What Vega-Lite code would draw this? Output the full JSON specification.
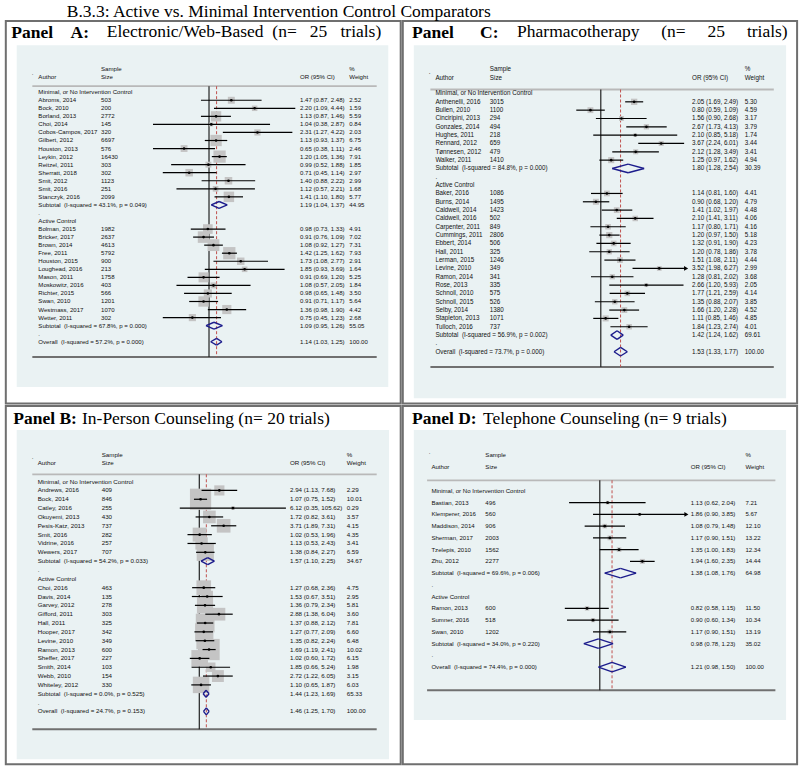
{
"$schema": "https://vega.github.io/schema/vega-lite/v6.json",
"autosize": {"type": "pad"},
"padding": {"left": 4.8, "top": 2.9, "right": 4, "bottom": 3.3},
"title": {"text": "B.3.3: Active vs. Minimal Intervention Control Comparators", "fontWeight": "normal", "anchor": "start", "dx": 61, "offset": -0.7, "frame": "group"},
"datasets": {
"A": [
{"row":0,"type":"head","label":"Minimal, or No Intervention Control"},
{"row":1,"type":"study","label":"Abroms, 2014","n":"503","or":1.47,"lo":0.87,"hi":2.48,"ci":"1.47 (0.87, 2.48)","w":2.52},
{"row":2,"type":"study","label":"Bock, 2010","n":"200","or":2.20,"lo":1.09,"hi":4.44,"ci":"2.20 (1.09, 4.44)","w":1.59},
{"row":3,"type":"study","label":"Borland, 2013","n":"2772","or":1.13,"lo":0.87,"hi":1.46,"ci":"1.13 (0.87, 1.46)","w":5.59},
{"row":4,"type":"study","label":"Choi, 2014","n":"145","or":1.04,"lo":0.38,"hi":2.87,"ci":"1.04 (0.38, 2.87)","w":0.84},
{"row":5,"type":"study","label":"Cobos-Campos, 2017","n":"320","or":2.31,"lo":1.27,"hi":4.22,"ci":"2.31 (1.27, 4.22)","w":2.03},
{"row":6,"type":"study","label":"Gilbert, 2012","n":"6697","or":1.13,"lo":0.93,"hi":1.37,"ci":"1.13 (0.93, 1.37)","w":6.75},
{"row":7,"type":"study","label":"Houston, 2013","n":"576","or":0.65,"lo":0.38,"hi":1.11,"ci":"0.65 (0.38, 1.11)","w":2.46},
{"row":8,"type":"study","label":"Leykin, 2012","n":"16430","or":1.20,"lo":1.05,"hi":1.36,"ci":"1.20 (1.05, 1.36)","w":7.91},
{"row":9,"type":"study","label":"Reitzel, 2011","n":"303","or":0.99,"lo":0.52,"hi":1.88,"ci":"0.99 (0.52, 1.88)","w":1.85},
{"row":10,"type":"study","label":"Sherratt, 2018","n":"302","or":0.71,"lo":0.45,"hi":1.14,"ci":"0.71 (0.45, 1.14)","w":2.97},
{"row":11,"type":"study","label":"Smit, 2012","n":"1123","or":1.40,"lo":0.88,"hi":2.22,"ci":"1.40 (0.88, 2.22)","w":2.99},
{"row":12,"type":"study","label":"Smit, 2016","n":"251","or":1.12,"lo":0.57,"hi":2.21,"ci":"1.12 (0.57, 2.21)","w":1.68},
{"row":13,"type":"study","label":"Stanczyk, 2016","n":"2099","or":1.41,"lo":1.10,"hi":1.80,"ci":"1.41 (1.10, 1.80)","w":5.77},
{"row":14,"type":"sub","label":"Subtotal\u00a0 (I-squared = 43.1%, p = 0.049)","or":1.19,"lo":1.04,"hi":1.37,"ci":"1.19 (1.04, 1.37)","w":44.95},
{"row":15,"type":"blank","label":"."},
{"row":16,"type":"head","label":"Active Control"},
{"row":17,"type":"study","label":"Bolman, 2015","n":"1982","or":0.98,"lo":0.73,"hi":1.33,"ci":"0.98 (0.73, 1.33)","w":4.91},
{"row":18,"type":"study","label":"Bricker, 2017","n":"2637","or":0.91,"lo":0.76,"hi":1.09,"ci":"0.91 (0.76, 1.09)","w":7.02},
{"row":19,"type":"study","label":"Brown, 2014","n":"4613","or":1.08,"lo":0.92,"hi":1.27,"ci":"1.08 (0.92, 1.27)","w":7.31},
{"row":20,"type":"study","label":"Free, 2011","n":"5792","or":1.42,"lo":1.25,"hi":1.62,"ci":"1.42 (1.25, 1.62)","w":7.93},
{"row":21,"type":"study","label":"Houston, 2015","n":"900","or":1.73,"lo":1.08,"hi":2.77,"ci":"1.73 (1.08, 2.77)","w":2.91},
{"row":22,"type":"study","label":"Loughead, 2016","n":"213","or":1.85,"lo":0.93,"hi":3.69,"ci":"1.85 (0.93, 3.69)","w":1.64},
{"row":23,"type":"study","label":"Mason, 2011","n":"1758","or":0.91,"lo":0.69,"hi":1.20,"ci":"0.91 (0.69, 1.20)","w":5.25},
{"row":24,"type":"study","label":"Moskowitz, 2016","n":"403","or":1.08,"lo":0.57,"hi":2.05,"ci":"1.08 (0.57, 2.05)","w":1.84},
{"row":25,"type":"study","label":"Richter, 2015","n":"566","or":0.98,"lo":0.65,"hi":1.48,"ci":"0.98 (0.65, 1.48)","w":3.50},
{"row":26,"type":"study","label":"Swan, 2010","n":"1201","or":0.91,"lo":0.71,"hi":1.17,"ci":"0.91 (0.71, 1.17)","w":5.64},
{"row":27,"type":"study","label":"Westmass, 2017","n":"1070","or":1.36,"lo":0.98,"hi":1.90,"ci":"1.36 (0.98, 1.90)","w":4.42},
{"row":28,"type":"study","label":"Wetter, 2011","n":"302","or":0.75,"lo":0.45,"hi":1.23,"ci":"0.75 (0.45, 1.23)","w":2.68},
{"row":29,"type":"sub","label":"Subtotal\u00a0 (I-squared = 67.8%, p = 0.000)","or":1.09,"lo":0.95,"hi":1.26,"ci":"1.09 (0.95, 1.26)","w":55.05},
{"row":30,"type":"blank","label":"."},
{"row":31,"type":"overall","label":"Overall\u00a0 (I-squared = 57.2%, p = 0.000)","or":1.14,"lo":1.03,"hi":1.25,"ci":"1.14 (1.03, 1.25)","w":100.00}
],
"C": [
{"row":0,"type":"head","label":"Minimal, or No Intervention Control"},
{"row":1,"type":"study","label":"Anthenelli, 2016","n":"3015","or":2.05,"lo":1.69,"hi":2.49,"ci":"2.05 (1.69, 2.49)","w":5.30},
{"row":2,"type":"study","label":"Bullen, 2010","n":"1100","or":0.80,"lo":0.59,"hi":1.09,"ci":"0.80 (0.59, 1.09)","w":4.59},
{"row":3,"type":"study","label":"Cinciripini, 2013","n":"294","or":1.56,"lo":0.90,"hi":2.68,"ci":"1.56 (0.90, 2.68)","w":3.17},
{"row":4,"type":"study","label":"Gonzales, 2014","n":"494","or":2.67,"lo":1.73,"hi":4.13,"ci":"2.67 (1.73, 4.13)","w":3.79},
{"row":5,"type":"study","label":"Hughes, 2011","n":"218","or":2.10,"lo":0.85,"hi":5.18,"ci":"2.10 (0.85, 5.18)","w":1.74},
{"row":6,"type":"study","label":"Rennard, 2012","n":"659","or":3.67,"lo":2.24,"hi":6.01,"ci":"3.67 (2.24, 6.01)","w":3.44},
{"row":7,"type":"study","label":"Tønnesen, 2012","n":"479","or":2.12,"lo":1.28,"hi":3.49,"ci":"2.12 (1.28, 3.49)","w":3.41},
{"row":8,"type":"study","label":"Walker, 2011","n":"1410","or":1.25,"lo":0.97,"hi":1.62,"ci":"1.25 (0.97, 1.62)","w":4.94},
{"row":9,"type":"sub","label":"Subtotal\u00a0 (I-squared = 84.8%, p = 0.000)","or":1.80,"lo":1.28,"hi":2.54,"ci":"1.80 (1.28, 2.54)","w":30.39},
{"row":10,"type":"blank","label":"."},
{"row":11,"type":"head","label":"Active Control"},
{"row":12,"type":"study","label":"Baker, 2016","n":"1086","or":1.14,"lo":0.81,"hi":1.60,"ci":"1.14 (0.81, 1.60)","w":4.41},
{"row":13,"type":"study","label":"Burns, 2014","n":"1495","or":0.90,"lo":0.68,"hi":1.20,"ci":"0.90 (0.68, 1.20)","w":4.79},
{"row":14,"type":"study","label":"Caldwell, 2014","n":"1423","or":1.41,"lo":1.02,"hi":1.97,"ci":"1.41 (1.02, 1.97)","w":4.48},
{"row":15,"type":"study","label":"Caldwell, 2016","n":"502","or":2.10,"lo":1.41,"hi":3.11,"ci":"2.10 (1.41, 3.11)","w":4.06},
{"row":16,"type":"study","label":"Carpenter, 2011","n":"849","or":1.17,"lo":0.80,"hi":1.71,"ci":"1.17 (0.80, 1.71)","w":4.16},
{"row":17,"type":"study","label":"Cummings, 2011","n":"2806","or":1.20,"lo":0.97,"hi":1.50,"ci":"1.20 (0.97, 1.50)","w":5.18},
{"row":18,"type":"study","label":"Ebbert, 2014","n":"506","or":1.32,"lo":0.91,"hi":1.90,"ci":"1.32 (0.91, 1.90)","w":4.23},
{"row":19,"type":"study","label":"Hall, 2011","n":"325","or":1.20,"lo":0.78,"hi":1.86,"ci":"1.20 (0.78, 1.86)","w":3.78},
{"row":20,"type":"study","label":"Lerman, 2015","n":"1246","or":1.51,"lo":1.08,"hi":2.11,"ci":"1.51 (1.08, 2.11)","w":4.44},
{"row":21,"type":"study","label":"Levine, 2010","n":"349","or":3.52,"lo":1.98,"hi":6.27,"ci":"3.52 (1.98, 6.27)","w":2.99},
{"row":22,"type":"study","label":"Ramon, 2014","n":"341","or":1.28,"lo":0.81,"hi":2.02,"ci":"1.28 (0.81, 2.02)","w":3.68},
{"row":23,"type":"study","label":"Rose, 2013","n":"335","or":2.66,"lo":1.20,"hi":5.93,"ci":"2.66 (1.20, 5.93)","w":2.05},
{"row":24,"type":"study","label":"Schnoll, 2010","n":"575","or":1.77,"lo":1.21,"hi":2.59,"ci":"1.77 (1.21, 2.59)","w":4.14},
{"row":25,"type":"study","label":"Schnoll, 2015","n":"526","or":1.35,"lo":0.88,"hi":2.07,"ci":"1.35 (0.88, 2.07)","w":3.85},
{"row":26,"type":"study","label":"Selby, 2014","n":"1380","or":1.66,"lo":1.20,"hi":2.28,"ci":"1.66 (1.20, 2.28)","w":4.52},
{"row":27,"type":"study","label":"Stapleton, 2013","n":"1071","or":1.11,"lo":0.85,"hi":1.46,"ci":"1.11 (0.85, 1.46)","w":4.85},
{"row":28,"type":"study","label":"Tulloch, 2016","n":"737","or":1.84,"lo":1.23,"hi":2.74,"ci":"1.84 (1.23, 2.74)","w":4.01},
{"row":29,"type":"sub","label":"Subtotal\u00a0 (I-squared = 56.9%, p = 0.002)","or":1.42,"lo":1.24,"hi":1.62,"ci":"1.42 (1.24, 1.62)","w":69.61},
{"row":30,"type":"blank","label":"."},
{"row":31,"type":"overall","label":"Overall\u00a0 (I-squared = 73.7%, p = 0.000)","or":1.53,"lo":1.33,"hi":1.77,"ci":"1.53 (1.33, 1.77)","w":100.00}
],
"B": [
{"row":0,"type":"head","label":"Minimal, or No Intervention Control"},
{"row":1,"type":"study","label":"Andrews, 2016","n":"409","or":2.94,"lo":1.13,"hi":7.68,"ci":"2.94 (1.13, 7.68)","w":2.29},
{"row":2,"type":"study","label":"Bock, 2014","n":"846","or":1.07,"lo":0.75,"hi":1.52,"ci":"1.07 (0.75, 1.52)","w":10.01},
{"row":3,"type":"study","label":"Catley, 2016","n":"255","or":6.12,"lo":0.35,"hi":105.62,"ci":"6.12 (0.35, 105.62)","w":0.29},
{"row":4,"type":"study","label":"Okuyemi, 2013","n":"430","or":1.72,"lo":0.82,"hi":3.61,"ci":"1.72 (0.82, 3.61)","w":3.57},
{"row":5,"type":"study","label":"Pesis-Katz, 2013","n":"737","or":3.71,"lo":1.89,"hi":7.31,"ci":"3.71 (1.89, 7.31)","w":4.15},
{"row":6,"type":"study","label":"Smit, 2016","n":"282","or":1.02,"lo":0.53,"hi":1.96,"ci":"1.02 (0.53, 1.96)","w":4.35},
{"row":7,"type":"study","label":"Vidrine, 2016","n":"257","or":1.13,"lo":0.53,"hi":2.43,"ci":"1.13 (0.53, 2.43)","w":3.41},
{"row":8,"type":"study","label":"Wewers, 2017","n":"707","or":1.38,"lo":0.84,"hi":2.27,"ci":"1.38 (0.84, 2.27)","w":6.59},
{"row":9,"type":"sub","label":"Subtotal\u00a0 (I-squared = 54.2%, p = 0.033)","or":1.57,"lo":1.10,"hi":2.25,"ci":"1.57 (1.10, 2.25)","w":34.67},
{"row":10,"type":"blank","label":"."},
{"row":11,"type":"head","label":"Active Control"},
{"row":12,"type":"study","label":"Choi, 2016","n":"463","or":1.27,"lo":0.68,"hi":2.36,"ci":"1.27 (0.68, 2.36)","w":4.75},
{"row":13,"type":"study","label":"Davis, 2014","n":"135","or":1.53,"lo":0.67,"hi":3.51,"ci":"1.53 (0.67, 3.51)","w":2.95},
{"row":14,"type":"study","label":"Garvey, 2012","n":"278","or":1.36,"lo":0.79,"hi":2.34,"ci":"1.36 (0.79, 2.34)","w":5.81},
{"row":15,"type":"study","label":"Gifford, 2011","n":"303","or":2.88,"lo":1.38,"hi":6.04,"ci":"2.88 (1.38, 6.04)","w":3.60},
{"row":16,"type":"study","label":"Hall, 2011","n":"325","or":1.37,"lo":0.88,"hi":2.12,"ci":"1.37 (0.88, 2.12)","w":7.81},
{"row":17,"type":"study","label":"Hooper, 2017","n":"342","or":1.27,"lo":0.77,"hi":2.09,"ci":"1.27 (0.77, 2.09)","w":6.60},
{"row":18,"type":"study","label":"Levine, 2010","n":"349","or":1.35,"lo":0.82,"hi":2.24,"ci":"1.35 (0.82, 2.24)","w":6.48},
{"row":19,"type":"study","label":"Ramon, 2013","n":"600","or":1.69,"lo":1.19,"hi":2.41,"ci":"1.69 (1.19, 2.41)","w":10.02},
{"row":20,"type":"study","label":"Sheffer, 2017","n":"227","or":1.02,"lo":0.60,"hi":1.72,"ci":"1.02 (0.60, 1.72)","w":6.15},
{"row":21,"type":"study","label":"Smith, 2014","n":"103","or":1.85,"lo":0.66,"hi":5.24,"ci":"1.85 (0.66, 5.24)","w":1.98},
{"row":22,"type":"study","label":"Webb, 2010","n":"154","or":2.72,"lo":1.22,"hi":6.05,"ci":"2.72 (1.22, 6.05)","w":3.15},
{"row":23,"type":"study","label":"Whiteley, 2012","n":"330","or":1.10,"lo":0.65,"hi":1.87,"ci":"1.10 (0.65, 1.87)","w":6.03},
{"row":24,"type":"sub","label":"Subtotal\u00a0 (I-squared = 0.0%, p = 0.525)","or":1.44,"lo":1.23,"hi":1.69,"ci":"1.44 (1.23, 1.69)","w":65.33},
{"row":25,"type":"blank","label":"."},
{"row":26,"type":"overall","label":"Overall\u00a0 (I-squared = 24.7%, p = 0.153)","or":1.46,"lo":1.25,"hi":1.70,"ci":"1.46 (1.25, 1.70)","w":100.00}
],
"D": [
{"row":0,"type":"head","label":"Minimal, or No Intervention Control"},
{"row":1,"type":"study","label":"Bastian, 2013","n":"496","or":1.13,"lo":0.62,"hi":2.04,"ci":"1.13 (0.62, 2.04)","w":7.21},
{"row":2,"type":"study","label":"Klemperer, 2016","n":"560","or":1.86,"lo":0.90,"hi":3.85,"ci":"1.86 (0.90, 3.85)","w":5.67},
{"row":3,"type":"study","label":"Maddison, 2014","n":"906","or":1.08,"lo":0.79,"hi":1.48,"ci":"1.08 (0.79, 1.48)","w":12.10},
{"row":4,"type":"study","label":"Sherman, 2017","n":"2003","or":1.17,"lo":0.90,"hi":1.51,"ci":"1.17 (0.90, 1.51)","w":13.22},
{"row":5,"type":"study","label":"Tzelepis, 2010","n":"1562","or":1.35,"lo":1.00,"hi":1.83,"ci":"1.35 (1.00, 1.83)","w":12.34},
{"row":6,"type":"study","label":"Zhu, 2012","n":"2277","or":1.94,"lo":1.60,"hi":2.35,"ci":"1.94 (1.60, 2.35)","w":14.44},
{"row":7,"type":"sub","label":"Subtotal\u00a0 (I-squared = 69.6%, p = 0.006)","or":1.38,"lo":1.08,"hi":1.76,"ci":"1.38 (1.08, 1.76)","w":64.98},
{"row":8,"type":"blank","label":"."},
{"row":9,"type":"head","label":"Active Control"},
{"row":10,"type":"study","label":"Ramon, 2013","n":"600","or":0.82,"lo":0.58,"hi":1.15,"ci":"0.82 (0.58, 1.15)","w":11.50},
{"row":11,"type":"study","label":"Sumner, 2016","n":"518","or":0.90,"lo":0.60,"hi":1.34,"ci":"0.90 (0.60, 1.34)","w":10.34},
{"row":12,"type":"study","label":"Swan, 2010","n":"1202","or":1.17,"lo":0.90,"hi":1.51,"ci":"1.17 (0.90, 1.51)","w":13.19},
{"row":13,"type":"sub","label":"Subtotal\u00a0 (I-squared = 34.0%, p = 0.220)","or":0.98,"lo":0.78,"hi":1.23,"ci":"0.98 (0.78, 1.23)","w":35.02},
{"row":14,"type":"blank","label":"."},
{"row":15,"type":"overall","label":"Overall\u00a0 (I-squared = 74.4%, p = 0.000)","or":1.21,"lo":0.98,"hi":1.50,"ci":"1.21 (0.98, 1.50)","w":100.00}
]
},
"spacing": 0,
"resolve": {"scale": {"x": "independent", "y": "independent", "size": "independent"}},
"vconcat": [
{"hconcat": [
{
"width": 394.9, "height": 382.6,
"title": {"text": "Panel\u00a0\u00a0\u00a0\u00a0A:", "offset": -20.3, "dx": 5.5},
"layer": [
{"data":{"values":[{}]},"mark":{"type":"rect","fill":"#eaf2f3"},"encoding":{"x":{"datum":0.03608,"type":"quantitative","scale":{"type":"log","domain":[0.02988,27.43],"nice":false},"axis":{"values":[0.225,1,4.44],"offset":-46.6,"title":null,"labelExpr":"datum.value < 1 ? substring(toString(datum.value), 1) : toString(datum.value)"}},"x2":{"datum":22.13},"y":{"datum":-5.84,"type":"quantitative","scale":{"domain":[-8.857,38.67],"reverse":true,"nice":false,"zero":false}},"y2":{"datum":36.61}}},
{"data":{"values":[{}]},"mark":{"type":"text","font":"Liberation Serif","fontSize":17.5,"baseline":"alphabetic","color":"black"},"encoding":{"x":{"datum":0.1708,"type":"quantitative","scale":{"type":"log","domain":[0.02988,27.43],"nice":false}},"y":{"datum":-6.795,"type":"quantitative","scale":{"domain":[-8.857,38.67],"reverse":true,"nice":false,"zero":false}},"text":{"value":"Electronic/Web-Based\u00a0\u00a0(n=\u00a0\u00a0\u00a025\u00a0\u00a0\u00a0trials)"}}},
{"data":{"values":[{}]},"mark":{"type":"rule","color":"#b9b9b9","strokeWidth":1.8},"encoding":{"x":{"datum":0.04725,"type":"quantitative","scale":{"type":"log","domain":[0.02988,27.43],"nice":false}},"x2":{"datum":18.12},"y":{"datum":-0.745,"type":"quantitative","scale":{"domain":[-8.857,38.67],"reverse":true,"nice":false,"zero":false}}}},
{"data":{"values":[{}]},"mark":{"type":"rule","color":"#707070","strokeWidth":2},"encoding":{"x":{"datum":0.04725,"type":"quantitative","scale":{"type":"log","domain":[0.02988,27.43],"nice":false}},"x2":{"datum":18.12},"y":{"datum":32.88,"type":"quantitative","scale":{"domain":[-8.857,38.67],"reverse":true,"nice":false,"zero":false}}}},
{"data":{"values":[{}]},"mark":{"type":"rule","color":"#222222","strokeWidth":1.2},"encoding":{"x":{"datum":1,"type":"quantitative","scale":{"type":"log","domain":[0.02988,27.43],"nice":false}},"y":{"datum":-0.745,"type":"quantitative","scale":{"domain":[-8.857,38.67],"reverse":true,"nice":false,"zero":false}},"y2":{"datum":32.88}}},
{"data":{"values":[{}]},"mark":{"type":"rule","color":"#c0504d","strokeWidth":1,"strokeDash":[3,2]},"encoding":{"x":{"datum":1.14,"type":"quantitative","scale":{"type":"log","domain":[0.02988,27.43],"nice":false}},"y":{"datum":-0.745,"type":"quantitative","scale":{"domain":[-8.857,38.67],"reverse":true,"nice":false,"zero":false}},"y2":{"datum":32.88}}},
{"data":{"name":"A"},"transform":[{"filter":"datum.type == 'study'"}],"mark":{"type":"point","shape":"square","filled":true,"color":"#c4c4c4","opacity":1},"encoding":{"x":{"field":"or","type":"quantitative","scale":{"type":"log","domain":[0.02988,27.43],"nice":false}},"y":{"field":"row","type":"quantitative","scale":{"domain":[-8.857,38.67],"reverse":true,"nice":false,"zero":false}},"size":{"field":"w","type":"quantitative","scale":{"domain":[0,10],"range":[0,190]},"legend":null}}},
{"data":{"name":"A"},"transform":[{"filter":"datum.type == 'study'"}],"mark":{"type":"rule","color":"black","strokeWidth":1.2},"encoding":{"x":{"field":"lo","type":"quantitative","scale":{"type":"log","domain":[0.02988,27.43],"nice":false}},"x2":{"field":"hi"},"y":{"field":"row","type":"quantitative","scale":{"domain":[-8.857,38.67],"reverse":true,"nice":false,"zero":false}}}},
{"data":{"name":"A"},"transform":[{"filter":"datum.type == 'study'"}],"mark":{"type":"point","shape":"circle","filled":true,"color":"black","size":7,"opacity":1},"encoding":{"x":{"field":"or","type":"quantitative","scale":{"type":"log","domain":[0.02988,27.43],"nice":false}},"y":{"field":"row","type":"quantitative","scale":{"domain":[-8.857,38.67],"reverse":true,"nice":false,"zero":false}}}},
{"data":{"name":"A"},"transform":[{"filter":"datum.type == 'sub' || datum.type == 'overall'"}],"mark":{"type":"rule","color":"#1c1c8c","strokeWidth":1.4,"y2Offset":-3.4},"encoding":{"x":{"field":"lo","type":"quantitative","scale":{"type":"log","domain":[0.02988,27.43],"nice":false}},"x2":{"field":"or"},"y":{"field":"row","type":"quantitative","scale":{"domain":[-8.857,38.67],"reverse":true,"nice":false,"zero":false}},"y2":{"field":"row"}}},
{"data":{"name":"A"},"transform":[{"filter":"datum.type == 'sub' || datum.type == 'overall'"}],"mark":{"type":"rule","color":"#1c1c8c","strokeWidth":1.4,"yOffset":-3.4},"encoding":{"x":{"field":"or","type":"quantitative","scale":{"type":"log","domain":[0.02988,27.43],"nice":false}},"x2":{"field":"hi"},"y":{"field":"row","type":"quantitative","scale":{"domain":[-8.857,38.67],"reverse":true,"nice":false,"zero":false}},"y2":{"field":"row"}}},
{"data":{"name":"A"},"transform":[{"filter":"datum.type == 'sub' || datum.type == 'overall'"}],"mark":{"type":"rule","color":"#1c1c8c","strokeWidth":1.4,"y2Offset":3.4},"encoding":{"x":{"field":"hi","type":"quantitative","scale":{"type":"log","domain":[0.02988,27.43],"nice":false}},"x2":{"field":"or"},"y":{"field":"row","type":"quantitative","scale":{"domain":[-8.857,38.67],"reverse":true,"nice":false,"zero":false}},"y2":{"field":"row"}}},
{"data":{"name":"A"},"transform":[{"filter":"datum.type == 'sub' || datum.type == 'overall'"}],"mark":{"type":"rule","color":"#1c1c8c","strokeWidth":1.4,"yOffset":3.4},"encoding":{"x":{"field":"or","type":"quantitative","scale":{"type":"log","domain":[0.02988,27.43],"nice":false}},"x2":{"field":"lo"},"y":{"field":"row","type":"quantitative","scale":{"domain":[-8.857,38.67],"reverse":true,"nice":false,"zero":false}},"y2":{"field":"row"}}},
{"data":{"name":"A"},"mark":{"type":"text"},"encoding":{"x":{"datum":0.05241,"type":"quantitative","scale":{"type":"log","domain":[0.02988,27.43],"nice":false}},"y":{"field":"row","type":"quantitative","scale":{"domain":[-8.857,38.67],"reverse":true,"nice":false,"zero":false}},"text":{"field":"label"}}},
{"data":{"name":"A"},"transform":[{"filter":"isValid(datum.n)"}],"mark":{"type":"text"},"encoding":{"x":{"datum":0.1548,"type":"quantitative","scale":{"type":"log","domain":[0.02988,27.43],"nice":false}},"y":{"field":"row","type":"quantitative","scale":{"domain":[-8.857,38.67],"reverse":true,"nice":false,"zero":false}},"text":{"field":"n"}}},
{"data":{"name":"A"},"transform":[{"filter":"isValid(datum.ci)"}],"mark":{"type":"text"},"encoding":{"x":{"datum":4.816,"type":"quantitative","scale":{"type":"log","domain":[0.02988,27.43],"nice":false}},"y":{"field":"row","type":"quantitative","scale":{"domain":[-8.857,38.67],"reverse":true,"nice":false,"zero":false}},"text":{"field":"ci"}}},
{"data":{"name":"A"},"transform":[{"filter":"isValid(datum.w)"}],"mark":{"type":"text"},"encoding":{"x":{"datum":11.28,"type":"quantitative","scale":{"type":"log","domain":[0.02988,27.43],"nice":false}},"y":{"field":"row","type":"quantitative","scale":{"domain":[-8.857,38.67],"reverse":true,"nice":false,"zero":false}},"text":{"field":"w","type":"quantitative","format":".2f"}}},
{"data":{"values":[{}]},"mark":{"type":"text"},"encoding":{"x":{"datum":0.1548,"type":"quantitative","scale":{"type":"log","domain":[0.02988,27.43],"nice":false}},"y":{"datum":-2.94,"type":"quantitative","scale":{"domain":[-8.857,38.67],"reverse":true,"nice":false,"zero":false}},"text":{"value":"Sample"}}},
{"data":{"values":[{}]},"mark":{"type":"text"},"encoding":{"x":{"datum":0.1548,"type":"quantitative","scale":{"type":"log","domain":[0.02988,27.43],"nice":false}},"y":{"datum":-1.9,"type":"quantitative","scale":{"domain":[-8.857,38.67],"reverse":true,"nice":false,"zero":false}},"text":{"value":"Size"}}},
{"data":{"values":[{}]},"mark":{"type":"text"},"encoding":{"x":{"datum":0.05241,"type":"quantitative","scale":{"type":"log","domain":[0.02988,27.43],"nice":false}},"y":{"datum":-1.9,"type":"quantitative","scale":{"domain":[-8.857,38.67],"reverse":true,"nice":false,"zero":false}},"text":{"value":"Author"}}},
{"data":{"values":[{}]},"mark":{"type":"text"},"encoding":{"x":{"datum":4.816,"type":"quantitative","scale":{"type":"log","domain":[0.02988,27.43],"nice":false}},"y":{"datum":-1.9,"type":"quantitative","scale":{"domain":[-8.857,38.67],"reverse":true,"nice":false,"zero":false}},"text":{"value":"OR (95% CI)"}}},
{"data":{"values":[{}]},"mark":{"type":"text"},"encoding":{"x":{"datum":11.28,"type":"quantitative","scale":{"type":"log","domain":[0.02988,27.43],"nice":false}},"y":{"datum":-2.94,"type":"quantitative","scale":{"domain":[-8.857,38.67],"reverse":true,"nice":false,"zero":false}},"text":{"value":"%"}}},
{"data":{"values":[{}]},"mark":{"type":"text"},"encoding":{"x":{"datum":11.28,"type":"quantitative","scale":{"type":"log","domain":[0.02988,27.43],"nice":false}},"y":{"datum":-1.9,"type":"quantitative","scale":{"domain":[-8.857,38.67],"reverse":true,"nice":false,"zero":false}},"text":{"value":"Weight"}}},
{"data":{"values":[{}]},"mark":{"type":"text"},"encoding":{"x":{"datum":0.04677,"type":"quantitative","scale":{"type":"log","domain":[0.02988,27.43],"nice":false}},"y":{"datum":-2.4,"type":"quantitative","scale":{"domain":[-8.857,38.67],"reverse":true,"nice":false,"zero":false}},"text":{"value":"."}}}
]
},
{
"width": 394.3, "height": 382.6,
"title": {"text": "Panel\u00a0\u00a0\u00a0\u00a0\u00a0\u00a0C:", "offset": -20.3, "dx": 9.3},
"layer": [
{"data":{"values":[{}]},"mark":{"type":"rect","fill":"#eaf2f3"},"encoding":{"x":{"datum":0.01788,"type":"quantitative","scale":{"type":"log","domain":[0.01411,68.33],"nice":false},"axis":{"values":[0.16,1,6.27],"offset":-36.6,"title":null,"labelExpr":"datum.value < 1 ? substring(toString(datum.value), 1) : toString(datum.value)"}},"x2":{"datum":53.93},"y":{"datum":-5.8,"type":"quantitative","scale":{"domain":[-8.715,37.215],"reverse":true,"nice":false,"zero":false}},"y2":{"datum":36.6}}},
{"data":{"values":[{}]},"mark":{"type":"text","font":"Liberation Serif","fontSize":17.5,"baseline":"alphabetic","color":"black"},"encoding":{"x":{"datum":0.1651,"type":"quantitative","scale":{"type":"log","domain":[0.01411,68.33],"nice":false}},"y":{"datum":-6.795,"type":"quantitative","scale":{"domain":[-8.715,37.215],"reverse":true,"nice":false,"zero":false}},"text":{"value":"Pharmacotherapy\u00a0\u00a0\u00a0\u00a0\u00a0(n=\u00a0\u00a0\u00a0\u00a0\u00a025\u00a0\u00a0\u00a0\u00a0\u00a0trials)"}}},
{"data":{"values":[{}]},"mark":{"type":"rule","color":"#b9b9b9","strokeWidth":1.8},"encoding":{"x":{"datum":0.02556,"type":"quantitative","scale":{"type":"log","domain":[0.01411,68.33],"nice":false}},"x2":{"datum":41.39},"y":{"datum":-0.48,"type":"quantitative","scale":{"domain":[-8.715,37.215],"reverse":true,"nice":false,"zero":false}}}},
{"data":{"values":[{}]},"mark":{"type":"rule","color":"#707070","strokeWidth":2},"encoding":{"x":{"datum":0.02556,"type":"quantitative","scale":{"type":"log","domain":[0.01411,68.33],"nice":false}},"x2":{"datum":41.39},"y":{"datum":32.82,"type":"quantitative","scale":{"domain":[-8.715,37.215],"reverse":true,"nice":false,"zero":false}}}},
{"data":{"values":[{}]},"mark":{"type":"rule","color":"#222222","strokeWidth":1.2},"encoding":{"x":{"datum":1,"type":"quantitative","scale":{"type":"log","domain":[0.01411,68.33],"nice":false}},"y":{"datum":-0.48,"type":"quantitative","scale":{"domain":[-8.715,37.215],"reverse":true,"nice":false,"zero":false}},"y2":{"datum":32.82}}},
{"data":{"values":[{}]},"mark":{"type":"rule","color":"#c0504d","strokeWidth":1,"strokeDash":[3,2]},"encoding":{"x":{"datum":1.53,"type":"quantitative","scale":{"type":"log","domain":[0.01411,68.33],"nice":false}},"y":{"datum":-0.48,"type":"quantitative","scale":{"domain":[-8.715,37.215],"reverse":true,"nice":false,"zero":false}},"y2":{"datum":32.82}}},
{"data":{"name":"C"},"transform":[{"filter":"datum.type == 'study'"}],"mark":{"type":"point","shape":"square","filled":true,"color":"#c4c4c4","opacity":1},"encoding":{"x":{"field":"or","type":"quantitative","scale":{"type":"log","domain":[0.01411,68.33],"nice":false}},"y":{"field":"row","type":"quantitative","scale":{"domain":[-8.715,37.215],"reverse":true,"nice":false,"zero":false}},"size":{"field":"w","type":"quantitative","scale":{"domain":[0,10],"range":[0,75]},"legend":null}}},
{"data":{"name":"C"},"transform":[{"filter":"datum.type == 'study'"}],"mark":{"type":"rule","color":"black","strokeWidth":1.2},"encoding":{"x":{"field":"lo","type":"quantitative","scale":{"type":"log","domain":[0.01411,68.33],"nice":false}},"x2":{"field":"hi"},"y":{"field":"row","type":"quantitative","scale":{"domain":[-8.715,37.215],"reverse":true,"nice":false,"zero":false}}}},
{"data":{"name":"C"},"transform":[{"filter":"datum.type == 'study'"}],"mark":{"type":"point","shape":"circle","filled":true,"color":"black","size":7,"opacity":1},"encoding":{"x":{"field":"or","type":"quantitative","scale":{"type":"log","domain":[0.01411,68.33],"nice":false}},"y":{"field":"row","type":"quantitative","scale":{"domain":[-8.715,37.215],"reverse":true,"nice":false,"zero":false}}}},
{"data":{"name":"C"},"transform":[{"filter":"datum.type == 'study' && datum.hi >= 6.27"}],"mark":{"type":"point","shape":"triangle-right","filled":true,"color":"black","size":22,"opacity":1},"encoding":{"x":{"field":"hi","type":"quantitative","scale":{"type":"log","domain":[0.01411,68.33],"nice":false}},"y":{"field":"row","type":"quantitative","scale":{"domain":[-8.715,37.215],"reverse":true,"nice":false,"zero":false}}}},
{"data":{"name":"C"},"transform":[{"filter":"datum.type == 'sub' || datum.type == 'overall'"}],"mark":{"type":"rule","color":"#1c1c8c","strokeWidth":1.4,"y2Offset":-4.3},"encoding":{"x":{"field":"lo","type":"quantitative","scale":{"type":"log","domain":[0.01411,68.33],"nice":false}},"x2":{"field":"or"},"y":{"field":"row","type":"quantitative","scale":{"domain":[-8.715,37.215],"reverse":true,"nice":false,"zero":false}},"y2":{"field":"row"}}},
{"data":{"name":"C"},"transform":[{"filter":"datum.type == 'sub' || datum.type == 'overall'"}],"mark":{"type":"rule","color":"#1c1c8c","strokeWidth":1.4,"yOffset":-4.3},"encoding":{"x":{"field":"or","type":"quantitative","scale":{"type":"log","domain":[0.01411,68.33],"nice":false}},"x2":{"field":"hi"},"y":{"field":"row","type":"quantitative","scale":{"domain":[-8.715,37.215],"reverse":true,"nice":false,"zero":false}},"y2":{"field":"row"}}},
{"data":{"name":"C"},"transform":[{"filter":"datum.type == 'sub' || datum.type == 'overall'"}],"mark":{"type":"rule","color":"#1c1c8c","strokeWidth":1.4,"y2Offset":4.3},"encoding":{"x":{"field":"hi","type":"quantitative","scale":{"type":"log","domain":[0.01411,68.33],"nice":false}},"x2":{"field":"or"},"y":{"field":"row","type":"quantitative","scale":{"domain":[-8.715,37.215],"reverse":true,"nice":false,"zero":false}},"y2":{"field":"row"}}},
{"data":{"name":"C"},"transform":[{"filter":"datum.type == 'sub' || datum.type == 'overall'"}],"mark":{"type":"rule","color":"#1c1c8c","strokeWidth":1.4,"yOffset":4.3},"encoding":{"x":{"field":"or","type":"quantitative","scale":{"type":"log","domain":[0.01411,68.33],"nice":false}},"x2":{"field":"lo"},"y":{"field":"row","type":"quantitative","scale":{"domain":[-8.715,37.215],"reverse":true,"nice":false,"zero":false}},"y2":{"field":"row"}}},
{"data":{"name":"C"},"mark":{"type":"text","fontSize":6.3},"encoding":{"x":{"datum":0.02845,"type":"quantitative","scale":{"type":"log","domain":[0.01411,68.33],"nice":false}},"y":{"field":"row","type":"quantitative","scale":{"domain":[-8.715,37.215],"reverse":true,"nice":false,"zero":false}},"text":{"field":"label"}}},
{"data":{"name":"C"},"transform":[{"filter":"isValid(datum.n)"}],"mark":{"type":"text","fontSize":6.3},"encoding":{"x":{"datum":0.09176,"type":"quantitative","scale":{"type":"log","domain":[0.01411,68.33],"nice":false}},"y":{"field":"row","type":"quantitative","scale":{"domain":[-8.715,37.215],"reverse":true,"nice":false,"zero":false}},"text":{"field":"n"}}},
{"data":{"name":"C"},"transform":[{"filter":"isValid(datum.ci)"}],"mark":{"type":"text","fontSize":6.3},"encoding":{"x":{"datum":7.134,"type":"quantitative","scale":{"type":"log","domain":[0.01411,68.33],"nice":false}},"y":{"field":"row","type":"quantitative","scale":{"domain":[-8.715,37.215],"reverse":true,"nice":false,"zero":false}},"text":{"field":"ci"}}},
{"data":{"name":"C"},"transform":[{"filter":"isValid(datum.w)"}],"mark":{"type":"text","fontSize":6.3},"encoding":{"x":{"datum":22.17,"type":"quantitative","scale":{"type":"log","domain":[0.01411,68.33],"nice":false}},"y":{"field":"row","type":"quantitative","scale":{"domain":[-8.715,37.215],"reverse":true,"nice":false,"zero":false}},"text":{"field":"w","type":"quantitative","format":".2f"}}},
{"data":{"values":[{}]},"mark":{"type":"text","fontSize":6.3},"encoding":{"x":{"datum":0.09176,"type":"quantitative","scale":{"type":"log","domain":[0.01411,68.33],"nice":false}},"y":{"datum":-2.92,"type":"quantitative","scale":{"domain":[-8.715,37.215],"reverse":true,"nice":false,"zero":false}},"text":{"value":"Sample"}}},
{"data":{"values":[{}]},"mark":{"type":"text","fontSize":6.3},"encoding":{"x":{"datum":0.09176,"type":"quantitative","scale":{"type":"log","domain":[0.01411,68.33],"nice":false}},"y":{"datum":-1.92,"type":"quantitative","scale":{"domain":[-8.715,37.215],"reverse":true,"nice":false,"zero":false}},"text":{"value":"Size"}}},
{"data":{"values":[{}]},"mark":{"type":"text","fontSize":6.3},"encoding":{"x":{"datum":0.02845,"type":"quantitative","scale":{"type":"log","domain":[0.01411,68.33],"nice":false}},"y":{"datum":-1.92,"type":"quantitative","scale":{"domain":[-8.715,37.215],"reverse":true,"nice":false,"zero":false}},"text":{"value":"Author"}}},
{"data":{"values":[{}]},"mark":{"type":"text","fontSize":6.3},"encoding":{"x":{"datum":7.134,"type":"quantitative","scale":{"type":"log","domain":[0.01411,68.33],"nice":false}},"y":{"datum":-1.92,"type":"quantitative","scale":{"domain":[-8.715,37.215],"reverse":true,"nice":false,"zero":false}},"text":{"value":"OR (95% CI)"}}},
{"data":{"values":[{}]},"mark":{"type":"text","fontSize":6.3},"encoding":{"x":{"datum":22.17,"type":"quantitative","scale":{"type":"log","domain":[0.01411,68.33],"nice":false}},"y":{"datum":-2.92,"type":"quantitative","scale":{"domain":[-8.715,37.215],"reverse":true,"nice":false,"zero":false}},"text":{"value":"%"}}},
{"data":{"values":[{}]},"mark":{"type":"text","fontSize":6.3},"encoding":{"x":{"datum":22.17,"type":"quantitative","scale":{"type":"log","domain":[0.01411,68.33],"nice":false}},"y":{"datum":-1.92,"type":"quantitative","scale":{"domain":[-8.715,37.215],"reverse":true,"nice":false,"zero":false}},"text":{"value":"Weight"}}},
{"data":{"values":[{}]},"mark":{"type":"text","fontSize":6.3},"encoding":{"x":{"datum":0.0247,"type":"quantitative","scale":{"type":"log","domain":[0.01411,68.33],"nice":false}},"y":{"datum":-2.56,"type":"quantitative","scale":{"domain":[-8.715,37.215],"reverse":true,"nice":false,"zero":false}},"text":{"value":"."}}}
]
}
], "spacing": 0, "resolve": {"scale": {"x": "independent", "y": "independent", "size": "independent"}}},
{"hconcat": [
{
"width": 394.9, "height": 358.4,
"title": {"text": "Panel B:", "offset": -22.1, "dx": 7.5},
"layer": [
{"data":{"values":[{}]},"mark":{"type":"rect","fill":"#eaf2f3"},"encoding":{"x":{"datum":0.0000542,"type":"quantitative","scale":{"type":"log","domain":[0.00003013,50780],"nice":false},"axis":{"values":[0.00947,1,106],"offset":-35,"title":null,"labelExpr":"datum.value < 1 ? substring(toString(datum.value), 1) : toString(datum.value)"}},"x2":{"datum":27050},"y":{"datum":-5.85,"type":"quantitative","scale":{"domain":[-8.563,31.98],"reverse":true,"nice":false,"zero":false}},"y2":{"datum":31.41}}},
{"data":{"values":[{}]},"mark":{"type":"text","font":"Liberation Serif","fontSize":17.5,"baseline":"alphabetic","color":"black"},"encoding":{"x":{"datum":0.001816,"type":"quantitative","scale":{"type":"log","domain":[0.00003013,50780],"nice":false}},"y":{"datum":-6.482,"type":"quantitative","scale":{"domain":[-8.563,31.98],"reverse":true,"nice":false,"zero":false}},"text":{"value":"In-Person Counseling (n= 20 trials)"}}},
{"data":{"values":[{}]},"mark":{"type":"rule","color":"#b9b9b9","strokeWidth":1.8},"encoding":{"x":{"datum":0.0001253,"type":"quantitative","scale":{"type":"log","domain":[0.00003013,50780],"nice":false}},"x2":{"datum":13960},"y":{"datum":-0.826,"type":"quantitative","scale":{"domain":[-8.563,31.98],"reverse":true,"nice":false,"zero":false}}}},
{"data":{"values":[{}]},"mark":{"type":"rule","color":"#707070","strokeWidth":2},"encoding":{"x":{"datum":0.0001253,"type":"quantitative","scale":{"type":"log","domain":[0.00003013,50780],"nice":false}},"x2":{"datum":13960},"y":{"datum":28.02,"type":"quantitative","scale":{"domain":[-8.563,31.98],"reverse":true,"nice":false,"zero":false}}}},
{"data":{"values":[{}]},"mark":{"type":"rule","color":"#222222","strokeWidth":1.2},"encoding":{"x":{"datum":1,"type":"quantitative","scale":{"type":"log","domain":[0.00003013,50780],"nice":false}},"y":{"datum":-0.826,"type":"quantitative","scale":{"domain":[-8.563,31.98],"reverse":true,"nice":false,"zero":false}},"y2":{"datum":28.02}}},
{"data":{"values":[{}]},"mark":{"type":"rule","color":"#c0504d","strokeWidth":1,"strokeDash":[3,2]},"encoding":{"x":{"datum":1.46,"type":"quantitative","scale":{"type":"log","domain":[0.00003013,50780],"nice":false}},"y":{"datum":-0.826,"type":"quantitative","scale":{"domain":[-8.563,31.98],"reverse":true,"nice":false,"zero":false}},"y2":{"datum":28.02}}},
{"data":{"name":"B"},"transform":[{"filter":"datum.type == 'study'"}],"mark":{"type":"point","shape":"square","filled":true,"color":"#c4c4c4","opacity":1},"encoding":{"x":{"field":"or","type":"quantitative","scale":{"type":"log","domain":[0.00003013,50780],"nice":false}},"y":{"field":"row","type":"quantitative","scale":{"domain":[-8.563,31.98],"reverse":true,"nice":false,"zero":false}},"size":{"field":"w","type":"quantitative","scale":{"domain":[0,10],"range":[0,450]},"legend":null}}},
{"data":{"name":"B"},"transform":[{"filter":"datum.type == 'study'"}],"mark":{"type":"rule","color":"black","strokeWidth":1.2},"encoding":{"x":{"field":"lo","type":"quantitative","scale":{"type":"log","domain":[0.00003013,50780],"nice":false}},"x2":{"field":"hi"},"y":{"field":"row","type":"quantitative","scale":{"domain":[-8.563,31.98],"reverse":true,"nice":false,"zero":false}}}},
{"data":{"name":"B"},"transform":[{"filter":"datum.type == 'study'"}],"mark":{"type":"point","shape":"circle","filled":true,"color":"black","size":7,"opacity":1},"encoding":{"x":{"field":"or","type":"quantitative","scale":{"type":"log","domain":[0.00003013,50780],"nice":false}},"y":{"field":"row","type":"quantitative","scale":{"domain":[-8.563,31.98],"reverse":true,"nice":false,"zero":false}}}},
{"data":{"name":"B"},"transform":[{"filter":"datum.type == 'sub' || datum.type == 'overall'"}],"mark":{"type":"rule","color":"#1c1c8c","strokeWidth":1.4,"y2Offset":-3.5},"encoding":{"x":{"field":"lo","type":"quantitative","scale":{"type":"log","domain":[0.00003013,50780],"nice":false}},"x2":{"field":"or"},"y":{"field":"row","type":"quantitative","scale":{"domain":[-8.563,31.98],"reverse":true,"nice":false,"zero":false}},"y2":{"field":"row"}}},
{"data":{"name":"B"},"transform":[{"filter":"datum.type == 'sub' || datum.type == 'overall'"}],"mark":{"type":"rule","color":"#1c1c8c","strokeWidth":1.4,"yOffset":-3.5},"encoding":{"x":{"field":"or","type":"quantitative","scale":{"type":"log","domain":[0.00003013,50780],"nice":false}},"x2":{"field":"hi"},"y":{"field":"row","type":"quantitative","scale":{"domain":[-8.563,31.98],"reverse":true,"nice":false,"zero":false}},"y2":{"field":"row"}}},
{"data":{"name":"B"},"transform":[{"filter":"datum.type == 'sub' || datum.type == 'overall'"}],"mark":{"type":"rule","color":"#1c1c8c","strokeWidth":1.4,"y2Offset":3.5},"encoding":{"x":{"field":"hi","type":"quantitative","scale":{"type":"log","domain":[0.00003013,50780],"nice":false}},"x2":{"field":"or"},"y":{"field":"row","type":"quantitative","scale":{"domain":[-8.563,31.98],"reverse":true,"nice":false,"zero":false}},"y2":{"field":"row"}}},
{"data":{"name":"B"},"transform":[{"filter":"datum.type == 'sub' || datum.type == 'overall'"}],"mark":{"type":"rule","color":"#1c1c8c","strokeWidth":1.4,"yOffset":3.5},"encoding":{"x":{"field":"or","type":"quantitative","scale":{"type":"log","domain":[0.00003013,50780],"nice":false}},"x2":{"field":"lo"},"y":{"field":"row","type":"quantitative","scale":{"domain":[-8.563,31.98],"reverse":true,"nice":false,"zero":false}},"y2":{"field":"row"}}},
{"data":{"name":"B"},"mark":{"type":"text","fontSize":6.2},"encoding":{"x":{"datum":0.0001676,"type":"quantitative","scale":{"type":"log","domain":[0.00003013,50780],"nice":false}},"y":{"field":"row","type":"quantitative","scale":{"domain":[-8.563,31.98],"reverse":true,"nice":false,"zero":false}},"text":{"field":"label"}}},
{"data":{"name":"B"},"transform":[{"filter":"isValid(datum.n)"}],"mark":{"type":"text","fontSize":6.2},"encoding":{"x":{"datum":0.005243,"type":"quantitative","scale":{"type":"log","domain":[0.00003013,50780],"nice":false}},"y":{"field":"row","type":"quantitative","scale":{"domain":[-8.563,31.98],"reverse":true,"nice":false,"zero":false}},"text":{"field":"n"}}},
{"data":{"name":"B"},"transform":[{"filter":"isValid(datum.ci)"}],"mark":{"type":"text","fontSize":6.2},"encoding":{"x":{"datum":131.6,"type":"quantitative","scale":{"type":"log","domain":[0.00003013,50780],"nice":false}},"y":{"field":"row","type":"quantitative","scale":{"domain":[-8.563,31.98],"reverse":true,"nice":false,"zero":false}},"text":{"field":"ci"}}},
{"data":{"name":"B"},"transform":[{"filter":"isValid(datum.w)"}],"mark":{"type":"text","fontSize":6.2},"encoding":{"x":{"datum":2780,"type":"quantitative","scale":{"type":"log","domain":[0.00003013,50780],"nice":false}},"y":{"field":"row","type":"quantitative","scale":{"domain":[-8.563,31.98],"reverse":true,"nice":false,"zero":false}},"text":{"field":"w","type":"quantitative","format":".2f"}}},
{"data":{"values":[{}]},"mark":{"type":"text","fontSize":6.2},"encoding":{"x":{"datum":0.005243,"type":"quantitative","scale":{"type":"log","domain":[0.00003013,50780],"nice":false}},"y":{"datum":-3.02,"type":"quantitative","scale":{"domain":[-8.563,31.98],"reverse":true,"nice":false,"zero":false}},"text":{"value":"Sample"}}},
{"data":{"values":[{}]},"mark":{"type":"text","fontSize":6.2},"encoding":{"x":{"datum":0.005243,"type":"quantitative","scale":{"type":"log","domain":[0.00003013,50780],"nice":false}},"y":{"datum":-2.15,"type":"quantitative","scale":{"domain":[-8.563,31.98],"reverse":true,"nice":false,"zero":false}},"text":{"value":"Size"}}},
{"data":{"values":[{}]},"mark":{"type":"text","fontSize":6.2},"encoding":{"x":{"datum":0.0001676,"type":"quantitative","scale":{"type":"log","domain":[0.00003013,50780],"nice":false}},"y":{"datum":-2.15,"type":"quantitative","scale":{"domain":[-8.563,31.98],"reverse":true,"nice":false,"zero":false}},"text":{"value":"Author"}}},
{"data":{"values":[{}]},"mark":{"type":"text","fontSize":6.2},"encoding":{"x":{"datum":131.6,"type":"quantitative","scale":{"type":"log","domain":[0.00003013,50780],"nice":false}},"y":{"datum":-2.15,"type":"quantitative","scale":{"domain":[-8.563,31.98],"reverse":true,"nice":false,"zero":false}},"text":{"value":"OR (95% CI)"}}},
{"data":{"values":[{}]},"mark":{"type":"text","fontSize":6.2},"encoding":{"x":{"datum":2780,"type":"quantitative","scale":{"type":"log","domain":[0.00003013,50780],"nice":false}},"y":{"datum":-3.02,"type":"quantitative","scale":{"domain":[-8.563,31.98],"reverse":true,"nice":false,"zero":false}},"text":{"value":"%"}}},
{"data":{"values":[{}]},"mark":{"type":"text","fontSize":6.2},"encoding":{"x":{"datum":2780,"type":"quantitative","scale":{"type":"log","domain":[0.00003013,50780],"nice":false}},"y":{"datum":-2.15,"type":"quantitative","scale":{"domain":[-8.563,31.98],"reverse":true,"nice":false,"zero":false}},"text":{"value":"Weight"}}},
{"data":{"values":[{}]},"mark":{"type":"text","fontSize":6.2},"encoding":{"x":{"datum":0.0001213,"type":"quantitative","scale":{"type":"log","domain":[0.00003013,50780],"nice":false}},"y":{"datum":-2.79,"type":"quantitative","scale":{"domain":[-8.563,31.98],"reverse":true,"nice":false,"zero":false}},"text":{"value":"."}}}
]
},
{
"width": 394.3, "height": 358.4,
"title": {"text": "Panel D:", "offset": -22.1, "dx": 9.3},
"layer": [
{"data":{"values":[{}]},"mark":{"type":"rect","fill":"#eaf2f3"},"encoding":{"x":{"datum":0.05526,"type":"quantitative","scale":{"type":"log","domain":[0.04656,21.58],"nice":false},"axis":{"values":[0.26,1,3.85],"offset":-74,"title":null,"labelExpr":"datum.value < 1 ? substring(toString(datum.value), 1) : toString(datum.value)"}},"x2":{"datum":18.18},"y":{"datum":-5.19,"type":"quantitative","scale":{"domain":[-7.234,23.27],"reverse":true,"nice":false,"zero":false}},"y2":{"datum":19.49}}},
{"data":{"values":[{}]},"mark":{"type":"text","font":"Liberation Serif","fontSize":17.5,"baseline":"alphabetic","color":"black"},"encoding":{"x":{"datum":0.1625,"type":"quantitative","scale":{"type":"log","domain":[0.04656,21.58],"nice":false}},"y":{"datum":-5.668,"type":"quantitative","scale":{"domain":[-7.234,23.27],"reverse":true,"nice":false,"zero":false}},"text":{"value":"Telephone Counseling (n= 9 trials)"}}},
{"data":{"values":[{}]},"mark":{"type":"rule","color":"#b9b9b9","strokeWidth":1.8},"encoding":{"x":{"datum":0.06796,"type":"quantitative","scale":{"type":"log","domain":[0.04656,21.58],"nice":false}},"x2":{"datum":15.39},"y":{"datum":-0.9,"type":"quantitative","scale":{"domain":[-7.234,23.27],"reverse":true,"nice":false,"zero":false}}}},
{"data":{"values":[{}]},"mark":{"type":"rule","color":"#707070","strokeWidth":2},"encoding":{"x":{"datum":0.06796,"type":"quantitative","scale":{"type":"log","domain":[0.04656,21.58],"nice":false}},"x2":{"datum":15.39},"y":{"datum":16.97,"type":"quantitative","scale":{"domain":[-7.234,23.27],"reverse":true,"nice":false,"zero":false}}}},
{"data":{"values":[{}]},"mark":{"type":"rule","color":"#222222","strokeWidth":1.2},"encoding":{"x":{"datum":1,"type":"quantitative","scale":{"type":"log","domain":[0.04656,21.58],"nice":false}},"y":{"datum":-0.9,"type":"quantitative","scale":{"domain":[-7.234,23.27],"reverse":true,"nice":false,"zero":false}},"y2":{"datum":16.97}}},
{"data":{"values":[{}]},"mark":{"type":"rule","color":"#c0504d","strokeWidth":1,"strokeDash":[3,2]},"encoding":{"x":{"datum":1.21,"type":"quantitative","scale":{"type":"log","domain":[0.04656,21.58],"nice":false}},"y":{"datum":-0.9,"type":"quantitative","scale":{"domain":[-7.234,23.27],"reverse":true,"nice":false,"zero":false}},"y2":{"datum":16.97}}},
{"data":{"name":"D"},"transform":[{"filter":"datum.type == 'study'"}],"mark":{"type":"point","shape":"square","filled":true,"color":"#c4c4c4","opacity":1},"encoding":{"x":{"field":"or","type":"quantitative","scale":{"type":"log","domain":[0.04656,21.58],"nice":false}},"y":{"field":"row","type":"quantitative","scale":{"domain":[-7.234,23.27],"reverse":true,"nice":false,"zero":false}},"size":{"field":"w","type":"quantitative","scale":{"domain":[0,10],"range":[0,17]},"legend":null}}},
{"data":{"name":"D"},"transform":[{"filter":"datum.type == 'study'"}],"mark":{"type":"rule","color":"black","strokeWidth":1.2},"encoding":{"x":{"field":"lo","type":"quantitative","scale":{"type":"log","domain":[0.04656,21.58],"nice":false}},"x2":{"field":"hi"},"y":{"field":"row","type":"quantitative","scale":{"domain":[-7.234,23.27],"reverse":true,"nice":false,"zero":false}}}},
{"data":{"name":"D"},"transform":[{"filter":"datum.type == 'study'"}],"mark":{"type":"point","shape":"circle","filled":true,"color":"black","size":7,"opacity":1},"encoding":{"x":{"field":"or","type":"quantitative","scale":{"type":"log","domain":[0.04656,21.58],"nice":false}},"y":{"field":"row","type":"quantitative","scale":{"domain":[-7.234,23.27],"reverse":true,"nice":false,"zero":false}}}},
{"data":{"name":"D"},"transform":[{"filter":"datum.type == 'study' && datum.hi >= 3.85"}],"mark":{"type":"point","shape":"triangle-right","filled":true,"color":"black","size":22,"opacity":1},"encoding":{"x":{"field":"hi","type":"quantitative","scale":{"type":"log","domain":[0.04656,21.58],"nice":false}},"y":{"field":"row","type":"quantitative","scale":{"domain":[-7.234,23.27],"reverse":true,"nice":false,"zero":false}}}},
{"data":{"name":"D"},"transform":[{"filter":"datum.type == 'sub' || datum.type == 'overall'"}],"mark":{"type":"rule","color":"#1c1c8c","strokeWidth":1.4,"y2Offset":-4.8},"encoding":{"x":{"field":"lo","type":"quantitative","scale":{"type":"log","domain":[0.04656,21.58],"nice":false}},"x2":{"field":"or"},"y":{"field":"row","type":"quantitative","scale":{"domain":[-7.234,23.27],"reverse":true,"nice":false,"zero":false}},"y2":{"field":"row"}}},
{"data":{"name":"D"},"transform":[{"filter":"datum.type == 'sub' || datum.type == 'overall'"}],"mark":{"type":"rule","color":"#1c1c8c","strokeWidth":1.4,"yOffset":-4.8},"encoding":{"x":{"field":"or","type":"quantitative","scale":{"type":"log","domain":[0.04656,21.58],"nice":false}},"x2":{"field":"hi"},"y":{"field":"row","type":"quantitative","scale":{"domain":[-7.234,23.27],"reverse":true,"nice":false,"zero":false}},"y2":{"field":"row"}}},
{"data":{"name":"D"},"transform":[{"filter":"datum.type == 'sub' || datum.type == 'overall'"}],"mark":{"type":"rule","color":"#1c1c8c","strokeWidth":1.4,"y2Offset":4.8},"encoding":{"x":{"field":"hi","type":"quantitative","scale":{"type":"log","domain":[0.04656,21.58],"nice":false}},"x2":{"field":"or"},"y":{"field":"row","type":"quantitative","scale":{"domain":[-7.234,23.27],"reverse":true,"nice":false,"zero":false}},"y2":{"field":"row"}}},
{"data":{"name":"D"},"transform":[{"filter":"datum.type == 'sub' || datum.type == 'overall'"}],"mark":{"type":"rule","color":"#1c1c8c","strokeWidth":1.4,"yOffset":4.8},"encoding":{"x":{"field":"or","type":"quantitative","scale":{"type":"log","domain":[0.04656,21.58],"nice":false}},"x2":{"field":"lo"},"y":{"field":"row","type":"quantitative","scale":{"domain":[-7.234,23.27],"reverse":true,"nice":false,"zero":false}},"y2":{"field":"row"}}},
{"data":{"name":"D"},"mark":{"type":"text"},"encoding":{"x":{"datum":0.07267,"type":"quantitative","scale":{"type":"log","domain":[0.04656,21.58],"nice":false}},"y":{"field":"row","type":"quantitative","scale":{"domain":[-7.234,23.27],"reverse":true,"nice":false,"zero":false}},"text":{"field":"label"}}},
{"data":{"name":"D"},"transform":[{"filter":"isValid(datum.n)"}],"mark":{"type":"text"},"encoding":{"x":{"datum":0.1684,"type":"quantitative","scale":{"type":"log","domain":[0.04656,21.58],"nice":false}},"y":{"field":"row","type":"quantitative","scale":{"domain":[-7.234,23.27],"reverse":true,"nice":false,"zero":false}},"text":{"field":"n"}}},
{"data":{"name":"D"},"transform":[{"filter":"isValid(datum.ci)"}],"mark":{"type":"text"},"encoding":{"x":{"datum":4.124,"type":"quantitative","scale":{"type":"log","domain":[0.04656,21.58],"nice":false}},"y":{"field":"row","type":"quantitative","scale":{"domain":[-7.234,23.27],"reverse":true,"nice":false,"zero":false}},"text":{"field":"ci"}}},
{"data":{"name":"D"},"transform":[{"filter":"isValid(datum.w)"}],"mark":{"type":"text"},"encoding":{"x":{"datum":9.647,"type":"quantitative","scale":{"type":"log","domain":[0.04656,21.58],"nice":false}},"y":{"field":"row","type":"quantitative","scale":{"domain":[-7.234,23.27],"reverse":true,"nice":false,"zero":false}},"text":{"field":"w","type":"quantitative","format":".2f"}}},
{"data":{"values":[{}]},"mark":{"type":"text"},"encoding":{"x":{"datum":0.1684,"type":"quantitative","scale":{"type":"log","domain":[0.04656,21.58],"nice":false}},"y":{"datum":-3.06,"type":"quantitative","scale":{"domain":[-7.234,23.27],"reverse":true,"nice":false,"zero":false}},"text":{"value":"Sample"}}},
{"data":{"values":[{}]},"mark":{"type":"text"},"encoding":{"x":{"datum":0.1684,"type":"quantitative","scale":{"type":"log","domain":[0.04656,21.58],"nice":false}},"y":{"datum":-2.04,"type":"quantitative","scale":{"domain":[-7.234,23.27],"reverse":true,"nice":false,"zero":false}},"text":{"value":"Size"}}},
{"data":{"values":[{}]},"mark":{"type":"text"},"encoding":{"x":{"datum":0.07267,"type":"quantitative","scale":{"type":"log","domain":[0.04656,21.58],"nice":false}},"y":{"datum":-2.04,"type":"quantitative","scale":{"domain":[-7.234,23.27],"reverse":true,"nice":false,"zero":false}},"text":{"value":"Author"}}},
{"data":{"values":[{}]},"mark":{"type":"text"},"encoding":{"x":{"datum":4.124,"type":"quantitative","scale":{"type":"log","domain":[0.04656,21.58],"nice":false}},"y":{"datum":-2.04,"type":"quantitative","scale":{"domain":[-7.234,23.27],"reverse":true,"nice":false,"zero":false}},"text":{"value":"OR (95% CI)"}}},
{"data":{"values":[{}]},"mark":{"type":"text"},"encoding":{"x":{"datum":9.647,"type":"quantitative","scale":{"type":"log","domain":[0.04656,21.58],"nice":false}},"y":{"datum":-3.06,"type":"quantitative","scale":{"domain":[-7.234,23.27],"reverse":true,"nice":false,"zero":false}},"text":{"value":"%"}}},
{"data":{"values":[{}]},"mark":{"type":"text"},"encoding":{"x":{"datum":9.647,"type":"quantitative","scale":{"type":"log","domain":[0.04656,21.58],"nice":false}},"y":{"datum":-2.04,"type":"quantitative","scale":{"domain":[-7.234,23.27],"reverse":true,"nice":false,"zero":false}},"text":{"value":"Weight"}}},
{"data":{"values":[{}]},"mark":{"type":"text"},"encoding":{"x":{"datum":0.06981,"type":"quantitative","scale":{"type":"log","domain":[0.04656,21.58],"nice":false}},"y":{"datum":-3.32,"type":"quantitative","scale":{"domain":[-7.234,23.27],"reverse":true,"nice":false,"zero":false}},"text":{"value":"."}}}
]
}
], "spacing": 0, "resolve": {"scale": {"x": "independent", "y": "independent", "size": "independent"}}}
],
"config": {
"view": {"stroke": "#6f6f6f", "strokeWidth": 2, "fill": "white"},
"axisY": {"disable": true},
"axisX": {"domain": false, "grid": false, "ticks": true, "tickSize": 5, "tickWidth": 1.5, "tickColor": "#555555", "labelFont": "Liberation Sans", "labelFontSize": 6.3, "labelColor": "#222222", "labelPadding": 2.5, "labelFlush": false, "labelOverlap": false},
"title": {"font": "Liberation Serif", "fontSize": 17.5, "fontWeight": "bold", "color": "black", "anchor": "start", "lineHeight": 17.5},
"text": {"font": "Liberation Sans", "fontSize": 6.1, "color": "#111111", "align": "left", "baseline": "middle"},
"point": {"opacity": 1},
"concat": {"spacing": 0}
}
}
